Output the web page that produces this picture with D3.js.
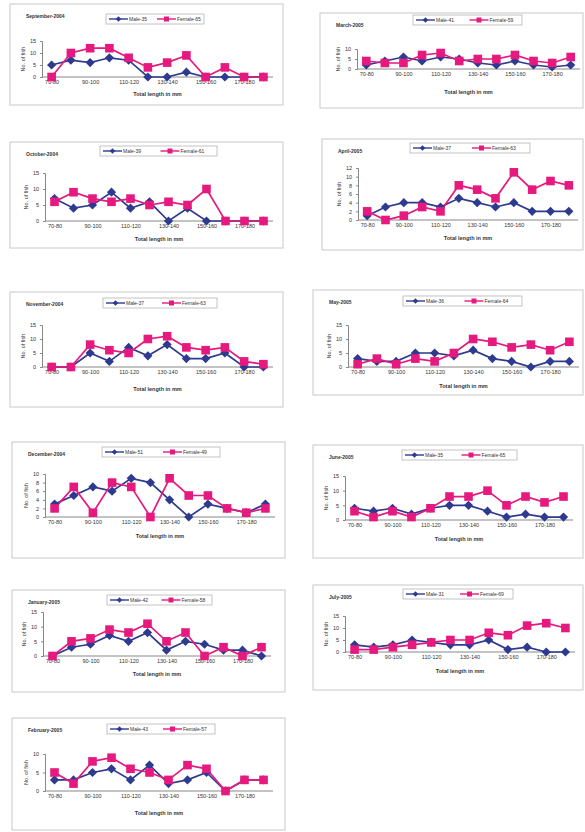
<!DOCTYPE html>
<html>
<head>
<meta charset="utf-8">
<script src="https://cdn.jsdelivr.net/npm/d3@7"></script>
<style>
  body { margin: 0; background: #fff; }
  text { font-family: Arial, "Liberation Sans", sans-serif; fill: #333; }
</style>
</head>
<body>
<div id="chart"></div>
<script>
// length classes (mm) and the labels shown on the x axis
const categories = ["70-80", "80-90", "90-100", "100-110", "110-120", "120-130",
                    "130-140", "140-150", "150-160", "160-170", "170-180", "180-190"];
const tickLabels = ["70-80", "90-100", "110-120", "130-140", "150-160", "170-180"];

// number of fish per length class
const maleSep04 = [5, 7, 6, 8, 7, 0, 0, 2, 0, 0, 0, 0];
const femaleSep04 = [0, 10, 12, 12, 8, 4, 6, 9, 0, 4, 0, 0];
const maleOct04 = [7, 4, 5, 9, 4, 6, 0, 4, 0, 0, 0, 0];
const femaleOct04 = [6, 9, 7, 6, 7, 5, 6, 5, 10, 0, 0, 0];
const maleNov04 = [0, 0, 5, 2, 7, 4, 8, 3, 3, 5, 0, 0];
const femaleNov04 = [0, 0, 8, 6, 5, 10, 11, 7, 6, 7, 2, 1];
const maleDec04 = [3, 5, 7, 6, 9, 8, 4, 0, 3, 2, 1, 3];
const femaleDec04 = [2, 7, 1, 8, 7, 0, 9, 5, 5, 2, 1, 2];
const maleJan05 = [0, 3, 4, 7, 5, 8, 2, 5, 4, 2, 2, 0];
const femaleJan05 = [0, 5, 6, 9, 8, 11, 5, 8, 0, 3, 0, 3];
const maleFeb05 = [3, 3, 5, 6, 3, 7, 2, 3, 5, 0, 3, 3];
const femaleFeb05 = [5, 2, 8, 9, 6, 5, 3, 7, 6, 0, 3, 3];
const maleMar05 = [2, 4, 6, 4, 6, 5, 3, 2, 4, 2, 1, 2];
const femaleMar05 = [4, 3, 3, 7, 8, 4, 5, 5, 7, 4, 3, 6];
const maleApr05 = [1, 3, 4, 4, 3, 5, 4, 3, 4, 2, 2, 2];
const femaleApr05 = [2, 0, 1, 3, 2, 8, 7, 5, 11, 7, 9, 8];
const maleMay05 = [3, 2, 2, 5, 5, 4, 6, 3, 2, 0, 2, 2];
const femaleMay05 = [1, 3, 1, 3, 2, 5, 10, 9, 7, 8, 6, 9];
const maleJun05 = [4, 3, 4, 2, 4, 5, 5, 3, 1, 2, 1, 1];
const femaleJun05 = [3, 1, 3, 1, 4, 8, 8, 10, 5, 8, 6, 8];
const maleJul05 = [3, 2, 3, 5, 4, 3, 3, 5, 1, 2, 0, 0];
const femaleJul05 = [1, 1, 2, 3, 4, 5, 5, 8, 7, 11, 12, 10];

const titles = ["September-2004", "October-2004", "November-2004", "December-2004",
                "January-2005", "February-2005", "March-2005", "April-2005",
                "May-2005", "June-2005", "July-2005"];
const maleTotals = [35, 39, 37, 51, 42, 43, 41, 37, 36, 35, 31];
const femaleTotals = [65, 61, 63, 49, 58, 57, 59, 63, 64, 65, 69];
const yMaxes = [15, 15, 15, 10, 15, 10, 10, 12, 15, 15, 15];
const yTickSteps = [5, 5, 5, 2, 5, 5, 5, 2, 5, 5, 5];

const maleSeries = [maleSep04, maleOct04, maleNov04, maleDec04, maleJan05, maleFeb05,
                    maleMar05, maleApr05, maleMay05, maleJun05, maleJul05];
const femaleSeries = [femaleSep04, femaleOct04, femaleNov04, femaleDec04, femaleJan05, femaleFeb05,
                      femaleMar05, femaleApr05, femaleMay05, femaleJun05, femaleJul05];

// where each little chart sits on the page (box, plot area, legend)
const layout = [
  {box: [10, 4, 273, 101],   px: [42, 273],  y0: 77,  yTop: 41,  lab: 85,  xt: 96,  leg: [106, 14, 98]},
  {box: [10, 142, 273, 106], px: [45, 273],  y0: 221, yTop: 173, lab: 230, xt: 241, leg: [100, 146, 117]},
  {box: [10, 292, 273, 115], px: [42, 273],  y0: 367, yTop: 325, lab: 378, xt: 391, leg: [103, 298, 114]},
  {box: [12, 442, 273, 116], px: [45, 275],  y0: 517, yTop: 474, lab: 527, xt: 538, leg: [102, 447, 118]},
  {box: [12, 590, 273, 102], px: [43, 271],  y0: 656, yTop: 612, lab: 665, xt: 676, leg: [107, 595, 105]},
  {box: [12, 718, 273, 112], px: [45, 273],  y0: 791, yTop: 754, lab: 803, xt: 815, leg: [107, 724, 108]},
  {box: [320, 13, 263, 95],  px: [357, 580], y0: 69,  yTop: 49,  lab: 80,  xt: 94,  leg: [413, 15, 109]},
  {box: [322, 139, 261, 111],px: [358, 578], y0: 220, yTop: 168, lab: 229, xt: 240, leg: [410, 143, 120]},
  {box: [313, 290, 270, 105],px: [348, 579], y0: 367, yTop: 325, lab: 377, xt: 388, leg: [403, 296, 119]},
  {box: [313, 445, 270, 113],px: [345, 573], y0: 520, yTop: 476, lab: 529, xt: 541, leg: [402, 450, 115]},
  {box: [313, 585, 270, 105],px: [345, 575], y0: 652, yTop: 616, lab: 662, xt: 673, leg: [403, 589, 110]}
];

const maleColor = "#2d3a8f";
const femaleColor = "#e5197e";

const svg = d3.select("#chart").append("svg")
    .attr("width", 585)
    .attr("height", 832);

function drawSquare(g, cx, cy, s, color) {
    g.append("rect")
        .attr("x", cx - s / 2).attr("y", cy - s / 2)
        .attr("width", s).attr("height", s)
        .attr("fill", color);
}
function drawDiamond(g, cx, cy, r, color) {
    g.append("path")
        .attr("d", `M${cx},${cy - r}L${cx + r},${cy}L${cx},${cy + r}L${cx - r},${cy}Z`)
        .attr("fill", color);
}

titles.forEach((title, i) => {
    let L = layout[i];
    let g = svg.append("g");

    // frame
    g.append("rect")
        .attr("x", L.box[0]).attr("y", L.box[1])
        .attr("width", L.box[2]).attr("height", L.box[3])
        .attr("fill", "#fff").attr("stroke", "#c8c8c8").attr("stroke-width", 1);

    g.append("text")
        .attr("x", L.box[0] + 16).attr("y", L.box[1] + 14)
        .attr("font-size", 5).attr("font-weight", "bold")
        .text(title);

    // scales
    let x = d3.scalePoint().domain(categories).range(L.px).padding(0.5);
    let y = d3.scaleLinear().domain([0, yMaxes[i]]).range([L.y0, L.yTop]);

    let yAxis = d3.axisLeft(y)
        .tickValues(d3.range(0, yMaxes[i] + 0.1, yTickSteps[i]))
        .tickSize(2).tickPadding(4);
    let ya = g.append("g").attr("transform", `translate(${L.px[0]},0)`).call(yAxis);
    ya.selectAll("text").attr("font-size", 5.5);

    let xAxis = d3.axisBottom(x).tickValues(tickLabels).tickSize(0).tickPadding(3);
    let xa = g.append("g").attr("transform", `translate(0,${L.y0})`).call(xAxis);
    xa.selectAll("text").attr("font-size", 5.5);
    xa.select(".domain").attr("d", `M${L.px[0]},0H${L.px[1]}`);
    [ya, xa].forEach(a => {
        a.select(".domain").attr("stroke", "#888");
        a.selectAll("line").attr("stroke", "#888");
    });

    g.append("text")
        .attr("x", (L.px[0] + L.px[1]) / 2).attr("y", L.xt)
        .attr("text-anchor", "middle").attr("font-size", 5.5).attr("font-weight", "bold")
        .text("Total length in mm");

    g.append("text")
        .attr("transform", `translate(${L.px[0] - 17},${(L.y0 + L.yTop) / 2}) rotate(-90)`)
        .attr("text-anchor", "middle").attr("font-size", 5.5)
        .text("No. of fish");

    // series
    let line = d3.line().x((d, k) => x(categories[k])).y(d => y(d));
    g.append("path").datum(maleSeries[i])
        .attr("d", line).attr("fill", "none")
        .attr("stroke", maleColor).attr("stroke-width", 1.7);
    g.append("path").datum(femaleSeries[i])
        .attr("d", line).attr("fill", "none")
        .attr("stroke", femaleColor).attr("stroke-width", 1.7);
    maleSeries[i].forEach((v, k) => drawDiamond(g, x(categories[k]), y(v), 4.6, maleColor));
    femaleSeries[i].forEach((v, k) => drawSquare(g, x(categories[k]), y(v), 8.6, femaleColor));

    // legend
    let lx = L.leg[0], ly = L.leg[1], lw = L.leg[2];
    g.append("rect")
        .attr("x", lx).attr("y", ly).attr("width", lw).attr("height", 10)
        .attr("fill", "#fff").attr("stroke", "#aaa").attr("stroke-width", 0.7);
    let cy = ly + 5;
    let half = lw / 2;
    g.append("line").attr("x1", lx + 3).attr("x2", lx + 22).attr("y1", cy).attr("y2", cy)
        .attr("stroke", maleColor).attr("stroke-width", 1.4);
    drawDiamond(g, lx + 12.5, cy, 2.8, maleColor);
    g.append("text").attr("x", lx + 23).attr("y", cy + 1.8).attr("font-size", 5)
        .text("Male-" + maleTotals[i]);
    g.append("line").attr("x1", lx + half + 2).attr("x2", lx + half + 21).attr("y1", cy).attr("y2", cy)
        .attr("stroke", femaleColor).attr("stroke-width", 1.4);
    drawSquare(g, lx + half + 11.5, cy, 5, femaleColor);
    g.append("text").attr("x", lx + half + 22).attr("y", cy + 1.8).attr("font-size", 5)
        .text("Female-" + femaleTotals[i]);
});
</script>
</body>
</html>
